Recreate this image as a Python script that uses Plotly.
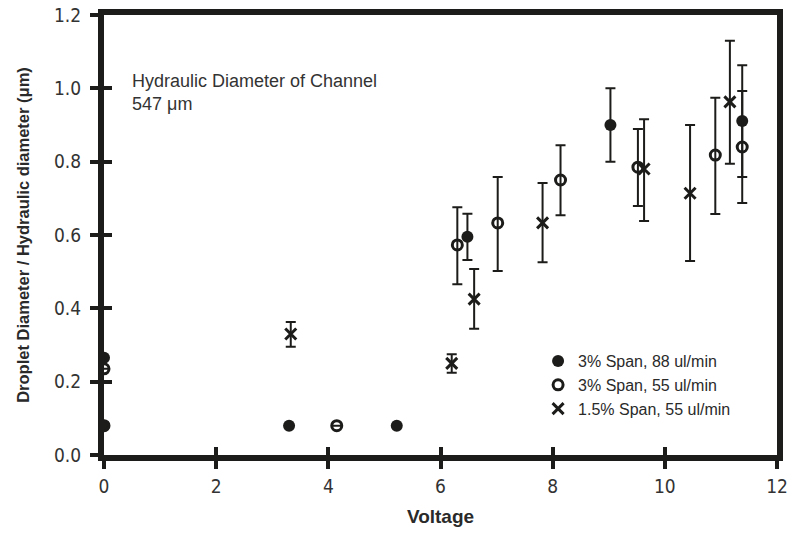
import plotly.graph_objects as go

# 3% Span, 88 ul/min (filled circles)
v_88 = [0.0, 0.0, 3.30, 5.22, 6.48, 9.03, 11.38]
d_88 = [0.265, 0.08, 0.08, 0.08, 0.595, 0.90, 0.911]
e_88_plus = [0, 0, 0, 0, 0.063, 0.10, 0.082]
e_88_minus = [0, 0, 0, 0, 0.063, 0.10, 0.153]

# 3% Span, 55 ul/min (open circles)
v_55 = [0.0, 0.0, 4.15, 6.30, 7.02, 8.14, 9.52, 10.90, 11.38]
d_55 = [0.235, 0.08, 0.08, 0.573, 0.633, 0.75, 0.785, 0.818, 0.84]
e_55_plus = [0, 0, 0, 0.103, 0.125, 0.095, 0.104, 0.156, 0.223]
e_55_minus = [0, 0, 0, 0.107, 0.131, 0.096, 0.106, 0.161, 0.153]

# 1.5% Span, 55 ul/min (crosses)
v_15 = [3.33, 6.20, 6.60, 7.82, 9.63, 10.45, 11.16]
d_15 = [0.33, 0.25, 0.425, 0.633, 0.78, 0.714, 0.963]
e_15_plus = [0.033, 0.025, 0.082, 0.109, 0.136, 0.186, 0.167]
e_15_minus = [0.035, 0.026, 0.081, 0.107, 0.142, 0.185, 0.169]

x_ticks = [0, 2, 4, 6, 8, 10, 12]
y_ticks = [0.0, 0.2, 0.4, 0.6, 0.8, 1.0, 1.2]

INK = "#1c1c1a"
TXT = "#2a2a2a"
NARROW = "Liberation Sans Narrow, Arial Narrow, DejaVu Sans Condensed, Liberation Sans, Arial, sans-serif"
SANS = "Liberation Sans, Arial, sans-serif"


def err(plus, minus):
    return dict(type="data", symmetric=False, array=plus, arrayminus=minus,
                color=INK, thickness=2, width=5)


fig = go.Figure()
fig.add_trace(go.Scatter(
    x=v_88, y=d_88, mode="markers", name="3% Span, 88 ul/min",
    marker=dict(symbol="circle", size=12, color=INK),
    error_y=err(e_88_plus, e_88_minus)))
fig.add_trace(go.Scatter(
    x=v_55, y=d_55, mode="markers", name="3% Span, 55 ul/min",
    marker=dict(symbol="circle-open", size=10, color=INK, line=dict(width=3, color=INK)),
    error_y=err(e_55_plus, e_55_minus)))
fig.add_trace(go.Scatter(
    x=v_15, y=d_15, mode="markers", name="1.5% Span, 55 ul/min",
    marker=dict(symbol="x-thin", size=11, color=INK, line=dict(width=3, color=INK)),
    error_y=err(e_15_plus, e_15_minus)))

# invisible helper trace so the overlay axes (inner half of crossing ticks) are drawn
fig.add_trace(go.Scatter(x=[x_ticks[0]], y=[y_ticks[0]], xaxis="x2", yaxis="y2",
                         mode="markers", marker=dict(opacity=0, size=1),
                         showlegend=False, hoverinfo="skip"))

fig.add_annotation(
    text="Hydraulic Diameter of Channel<br>547 μm",
    xref="paper", yref="paper", x=0.038, y=0.878,
    xanchor="left", yanchor="top", align="left", showarrow=False,
    font=dict(family=SANS, size=18, color="#333333"))

fig.update_layout(
    width=796, height=533,
    margin=dict(l=104, r=19, t=15, b=78, autoexpand=False),
    paper_bgcolor="white", plot_bgcolor="white",
    showlegend=True,
    legend=dict(x=0.645, y=0.252, xanchor="left", yanchor="top",
                bgcolor="rgba(0,0,0,0)", font=dict(family=SANS, size=16, color=TXT),
                itemwidth=30),
    xaxis=dict(range=[0, 12], tickvals=x_ticks, ticktext=[str(t) for t in x_ticks],
               showgrid=False, zeroline=False, automargin=False,
               showline=True, linewidth=6, linecolor=INK, mirror=True,
               ticks="outside", ticklen=8, tickwidth=4, tickcolor=INK,
               ticklabelstandoff=1,
               tickfont=dict(family=NARROW, size=19, color="#333333"),
               title=dict(text="<b>Voltage</b>", font=dict(family=SANS, size=19, color=TXT),
                          standoff=16)),
    yaxis=dict(range=[0, 1.2], tickvals=y_ticks, ticktext=[f"{t:.1f}" for t in y_ticks],
               showgrid=False, zeroline=False, automargin=False,
               showline=True, linewidth=6, linecolor=INK, mirror=True,
               ticks="outside", ticklen=8, tickwidth=4, tickcolor=INK,
               ticklabelstandoff=5,
               tickfont=dict(family=NARROW, size=19, color="#333333"),
               title=dict(text="<b>Droplet Diameter / Hydraulic diameter (μm)</b>",
                          font=dict(family=SANS, size=16.5, color=TXT), standoff=22)),
    xaxis2=dict(range=[0, 12], tickvals=x_ticks, overlaying="x", anchor="y", side="bottom",
                showticklabels=False, showgrid=False, zeroline=False, showline=False,
                automargin=False,
                ticks="inside", ticklen=8, tickwidth=4, tickcolor=INK),
    yaxis2=dict(range=[0, 1.2], tickvals=y_ticks, overlaying="y", anchor="x", side="left",
                showticklabels=False, showgrid=False, zeroline=False, showline=False,
                automargin=False,
                ticks="inside", ticklen=8, tickwidth=4, tickcolor=INK),
)

fig.write_html("out.html")
